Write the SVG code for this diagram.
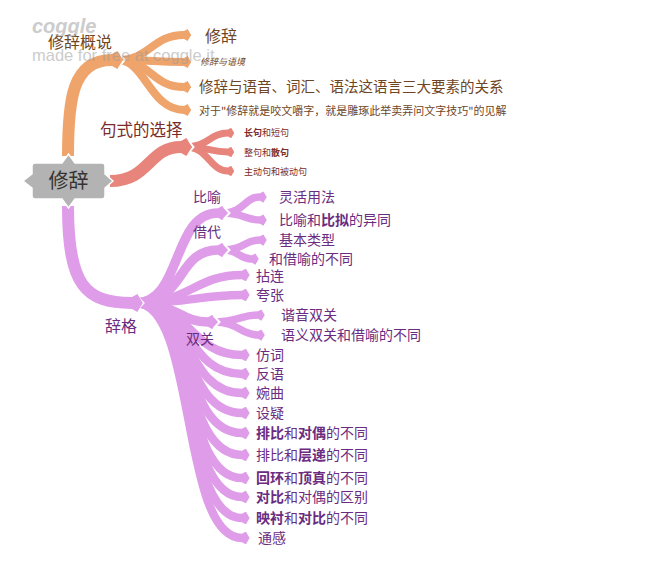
<svg xmlns="http://www.w3.org/2000/svg" width="670" height="584" viewBox="0 0 670 584">
<defs>
<style>
.br{fill:none;stroke-linecap:butt}
.o{stroke:#efa46c}
.r{stroke:#e7847c}
.p{stroke:#df9ce8}
.chev{fill:none;stroke:#fff;stroke-width:2}
text{font-family:"Noto Sans CJK SC","Noto Sans",sans-serif}
.to{fill:#6e4524}
.tr{fill:#7a2c2a}
.tp{fill:#6a2c80}
.b{font-weight:bold}
.wm{font-family:"Liberation Sans",Arial,sans-serif;fill:#9a9a9a;opacity:0.5}
</style>
<marker id="mo" viewBox="0 0 10 10" refX="0" refY="5" markerWidth="0.9" markerHeight="1.5" preserveAspectRatio="none" orient="auto" markerUnits="strokeWidth"><polygon points="0,1.6 5,0 10,5 5,10 0,8.4" fill="#efa46c"/></marker>
<marker id="mr" viewBox="0 0 10 10" refX="0" refY="5" markerWidth="0.9" markerHeight="1.5" preserveAspectRatio="none" orient="auto" markerUnits="strokeWidth"><polygon points="0,1.6 5,0 10,5 5,10 0,8.4" fill="#e7847c"/></marker>
<marker id="mp" viewBox="0 0 10 10" refX="0" refY="5" markerWidth="0.9" markerHeight="1.5" preserveAspectRatio="none" orient="auto" markerUnits="strokeWidth"><polygon points="0,1.6 5,0 10,5 5,10 0,8.4" fill="#df9ce8"/></marker>
</defs>
<rect width="670" height="584" fill="#fff"/>

<g id="connectors">
  <g class="br o" stroke-width="8" marker-end="url(#mo)">
    <path d="M118,60 C150,60 152,35 184,35"/>
    <path d="M118,60 C150,60 155,62 184,62"/>
    <path d="M118,60 C150,60 152,87 184,87"/>
    <path d="M118,60 C145,60 150,110 184,110"/>
  </g>
  <polyline class="chev" points="117,51 124.5,60 117,69"/>
  <path class="br o" stroke-width="12" marker-end="url(#mo)" d="M68,156 C68,100 72,60 112,60"/>

  <g class="br r" stroke-width="7" marker-end="url(#mr)">
    <path d="M186,147 C208,147 210,133 228,133"/>
    <path d="M186,147 C208,147 210,152 228,152"/>
    <path d="M186,147 C208,147 210,171 228,171"/>
  </g>
  <polyline class="chev" points="186,138 193.5,147 186,156"/>
  <path class="br r" stroke-width="12" marker-end="url(#mr)" d="M110,181 C150,181 148,147 181,147"/>

  <g class="br p" stroke-width="7.5" marker-end="url(#mp)">
    <path d="M222,213 C245,213 244,197 260,197"/>
    <path d="M222,213 C245,213 244,220 260,220"/>
    <path d="M222,250 C245,250 244,240 260,240"/>
    <path d="M222,250 C240,250 238,259 252,259"/>
    <path d="M212,322 C240,322 240,315 258,315"/>
    <path d="M212,322 C240,322 240,335 258,335"/>
  </g>
  <polyline class="chev" points="222,205 229.5,213 222,221"/>
  <polyline class="chev" points="222,242 229.5,250 222,258"/>
  <polyline class="chev" points="212,314 219.5,322 212,330"/>
  <g class="br p" stroke-width="9.5" marker-end="url(#mp)">
    <path d="M136,303 C182,303 172,213 218,213"/>
    <path d="M136,303 C186,303 176,250 218,250"/>
    <path d="M136,303 C176,303 180,322 208,322"/>
  </g>
  <g class="br p" stroke-width="8.5" marker-end="url(#mp)">
    <path d="M136,303 C190,303 195,275 242,275"/>
    <path d="M136,303 C190,303 200,295 242,295"/>
    <path d="M136,303 C190,303 190,355 242,355"/>
    <path d="M136,303 C191,303 186,374 242,374"/>
    <path d="M136,303 C192,303 184,393 242,393"/>
    <path d="M136,303 C193,303 182,413 242,413"/>
    <path d="M136,303 C195,303 181,433 242,433"/>
    <path d="M136,303 C195,303 180,455 242,455"/>
    <path d="M136,303 C196,303 180,478 242,478"/>
    <path d="M136,303 C196,303 180,497 242,497"/>
    <path d="M136,303 C197,303 180,518 242,518"/>
    <path d="M136,303 C197,303 180,538 242,538"/>
  </g>
  <polyline class="chev" points="135,294 143.5,303 135,312"/>
  <path class="br p" stroke-width="12" marker-end="url(#mp)" d="M68,206 C68,285 85,303 132,303"/>
</g>

<g id="root">
  <path d="M35,163 H62 L68.5,154 L75,163 H102 Q105,163 105,166 V174 L113,181 L105,188 V196 Q105,199 102,199 H75 L68.5,208 L62,199 H35 Q32,199 32,196 V188 L23,181 L32,174 V166 Q32,163 35,163 Z" fill="#b3b3b3" stroke="#fff" stroke-width="1.5"/>
  <text x="68.5" y="188" font-size="20" fill="#333" text-anchor="middle">修辞</text>
</g>

<g id="n-gaishuo"><text class="to" x="48" y="48" font-size="16">修辞概说</text></g>
<g id="n-xiuci"><text class="to" x="205" y="42" font-size="16">修辞</text></g>
<g id="n-yujing"><text class="to" x="200" y="65" font-size="9" font-style="italic">修辞与语境</text></g>
<g id="n-sanda"><text class="to" x="199" y="92" font-size="14.5">修辞与语音、词汇、语法这语言三大要素的关系</text></g>
<g id="n-jianjie"><text class="to" x="199" y="115" font-size="11">对于"修辞就是咬文嚼字，就是雕琢此举卖弄问文字技巧"的见解</text></g>

<g id="n-jushi"><text class="tr" x="100" y="136" font-size="16.5">句式的选择</text></g>
<g id="n-changju"><text class="tr" x="244" y="136" font-size="9"><tspan class="b">长句</tspan>和短句</text></g>
<g id="n-zhengju"><text class="tr" x="244" y="156" font-size="9">整句和<tspan class="b">散句</tspan></text></g>
<g id="n-zhudong"><text class="tr" x="244" y="175" font-size="9">主动句和被动句</text></g>

<g id="n-cige"><text class="tp" x="105" y="332" font-size="16">辞格</text></g>
<g id="n-biyu"><text class="tp" x="193" y="202" font-size="14">比喻</text></g>
<g id="n-linghuo"><text class="tp" x="279" y="202" font-size="14">灵活用法</text></g>
<g id="n-bini"><text class="tp" x="279" y="225" font-size="14">比喻和<tspan class="b">比拟</tspan>的异同</text></g>
<g id="n-jiedai"><text class="tp" x="193" y="237" font-size="14">借代</text></g>
<g id="n-jiben"><text class="tp" x="279" y="245" font-size="14">基本类型</text></g>
<g id="n-jieyu"><text class="tp" x="269" y="264" font-size="14">和借喻的不同</text></g>
<g id="n-nianlian"><text class="tp" x="256" y="281" font-size="14">拈连</text></g>
<g id="n-kuazhang"><text class="tp" x="256" y="300" font-size="14">夸张</text></g>
<g id="n-shuangguan"><text class="tp" x="186" y="344" font-size="14">双关</text></g>
<g id="n-xieyin"><text class="tp" x="281" y="320" font-size="14">谐音双关</text></g>
<g id="n-yuyi"><text class="tp" x="281" y="340" font-size="14">语义双关和借喻的不同</text></g>
<g id="n-fangci"><text class="tp" x="256" y="360" font-size="14">仿词</text></g>
<g id="n-fanyu"><text class="tp" x="256" y="379" font-size="14">反语</text></g>
<g id="n-wanqu"><text class="tp" x="256" y="398" font-size="14">婉曲</text></g>
<g id="n-sheyi"><text class="tp" x="256" y="418" font-size="14">设疑</text></g>
<g id="n-paibi1"><text class="tp" x="256" y="438" font-size="14"><tspan class="b">排比</tspan>和<tspan class="b">对偶</tspan>的不同</text></g>
<g id="n-paibi2"><text class="tp" x="256" y="460" font-size="14">排比和<tspan class="b">层递</tspan>的不同</text></g>
<g id="n-huihuan"><text class="tp" x="256" y="483" font-size="14"><tspan class="b">回环</tspan>和<tspan class="b">顶真</tspan>的不同</text></g>
<g id="n-duibi"><text class="tp" x="256" y="502" font-size="14"><tspan class="b">对比</tspan>和对偶的区别</text></g>
<g id="n-yingchen"><text class="tp" x="256" y="523" font-size="14"><tspan class="b">映衬</tspan>和<tspan class="b">对比</tspan>的不同</text></g>
<g id="n-tonggan"><text class="tp" x="258" y="543" font-size="14">通感</text></g>

<g id="watermark">
  <text class="wm" x="32" y="33" font-size="20" font-style="italic" font-weight="bold">coggle</text>
  <text class="wm" x="32" y="61" font-size="16.5">made for free at coggle.it</text>
</g>
</svg>
